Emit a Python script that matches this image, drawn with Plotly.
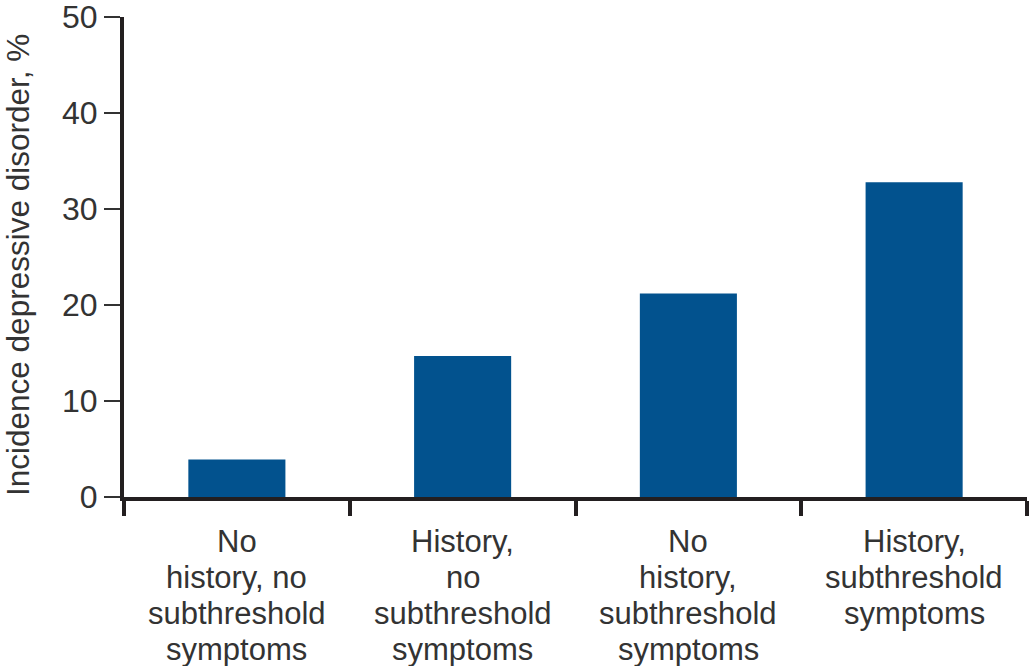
import plotly.graph_objects as go

categories = [
    "No<br>history, no<br>subthreshold<br>symptoms",
    "History,<br>no<br>subthreshold<br>symptoms",
    "No<br>history,<br>subthreshold<br>symptoms",
    "History,<br>subthreshold<br>symptoms",
]
incidence = [3.9, 14.7, 21.2, 32.8]
y_ticks = [0, 10, 20, 30, 40, 50]
y_title = "Incidence depressive disorder, %"

FONT = "Liberation Sans, Arial, sans-serif"
TXT = "#333333"

fig = go.Figure(
    go.Bar(
        x=categories,
        y=incidence,
        marker=dict(color="#02528e", line=dict(width=0)),
        width=0.43,
    )
)

# category labels: one annotation per text line for tighter line spacing
annotations = []
for cat in categories:
    for j, line in enumerate(cat.split("<br>")):
        annotations.append(
            dict(
                x=cat,
                xref="x",
                y=0,
                yref="paper",
                text=line,
                showarrow=False,
                xanchor="center",
                yanchor="middle",
                yshift=-(44 + 36.3 * j),
                font=dict(family=FONT, size=31, color=TXT),
            )
        )

annotations.append(
    dict(
        x=0,
        xref="paper",
        y=0.5,
        yref="paper",
        text=y_title,
        textangle=-90,
        showarrow=False,
        xanchor="center",
        yanchor="middle",
        xshift=-106,
        yshift=-8,
        font=dict(family=FONT, size=31.5, color=TXT),
    )
)

fig.update_layout(
    width=1030,
    height=666,
    margin=dict(l=124, r=3, t=17, b=169),
    paper_bgcolor="white",
    plot_bgcolor="white",
    showlegend=False,
    font=dict(family=FONT, size=32, color=TXT),
    annotations=annotations,
    xaxis=dict(
        type="category",
        range=[-0.5, 3.5],
        automargin=False,
        showline=True,
        linecolor="#231f20",
        linewidth=4,
        ticks="outside",
        tickson="boundaries",
        ticklen=15,
        tickwidth=4,
        tickcolor="#231f20",
        showgrid=False,
        showticklabels=False,
    ),
    yaxis=dict(
        range=[0, 50.02],
        automargin=False,
        tickvals=y_ticks,
        ticklabeloverflow="allow",
        showline=True,
        linecolor="#231f20",
        linewidth=4,
        ticks="outside",
        ticklen=16,
        tickwidth=1.5,
        tickcolor="#333333",
        showgrid=False,
        zeroline=False,
        tickfont=dict(family=FONT, size=32, color=TXT),
    ),
)

fig.write_html(
    "out.html",
    config={"displayModeBar": False},
    post_script="document.body.style.margin='0';document.body.style.overflow='hidden';",
)
